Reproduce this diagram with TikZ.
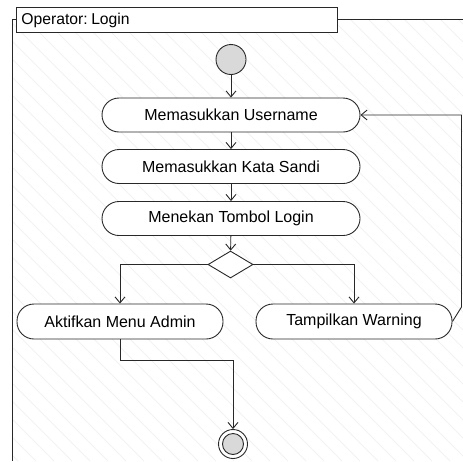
\documentclass[tikz,border=0pt]{standalone}
\usepackage{fontspec}
\setmainfont{Liberation Sans}
\usetikzlibrary{arrows.meta,shapes.geometric}
\definecolor{lgrey}{RGB}{217,217,217}
\definecolor{hatchc}{RGB}{242,242,242}
\definecolor{linec}{RGB}{40,40,40}
\begin{document}
\begin{tikzpicture}[x=1pt,y=-1pt,line width=0.9pt,color=linec,
  hatch/.style={draw=hatchc,line width=0.8pt},
  action/.style={draw=linec,fill=white,rounded corners=17pt,minimum height=34pt,inner sep=0pt,text=black,font=\fontsize{16}{19}\selectfont},
  arr/.style={draw=linec,-{Straight Barb[length=6pt,width=10pt]}},
  txt/.style={font=\fontsize{15.7}{19}\selectfont,inner sep=0pt,text=black}]
\useasboundingbox (0,0) rectangle (463,461);
\begin{scope}
  \clip (12,19) rectangle (463,461);
  \foreach \i in {-460,-442,...,470} \draw[hatch] (\i,19) -- ++(442,442);
\end{scope}
% frame
\draw[linec] (16,19) -- (12,19) -- (12,461);
\draw[linec] (337,19) -- (463,19);
\node[draw=linec,fill=white,minimum width=321pt,minimum height=25pt,inner sep=0pt,anchor=north west] (title) at (16,7) {};
\node[txt,anchor=west] (titletext) at ([xshift=5pt]title.west) {Operator:\hspace{3.5pt}Login};
% nodes
\node[circle,draw=linec,fill=lgrey,minimum size=30pt,inner sep=0pt] (start) at (231,59.5) {};
\node[action,minimum width=258pt] (user) at (231,115) {Memasukkan Username};
\node[action,minimum width=258pt] (kata) at (231,166.5) {Memasukkan Kata Sandi};
\node[action,minimum width=258pt] (login) at (231,218.5) {Menekan Tombol Login};
\node[diamond,draw=linec,fill=white,minimum width=45pt,minimum height=27pt,inner sep=0pt] (dia) at (230.5,264.5) {};
\node[action,minimum width=206pt,minimum height=35pt] (admin) at (120,321.5) {Aktifkan Menu Admin};
\node[action,minimum width=196pt,minimum height=35pt] (warn) at (354,321.5) {Tampilkan Warning};
\node[circle,draw=linec,fill=white,minimum size=29pt,inner sep=0pt] (final) at (233,444) {};
\node[circle,draw=linec,fill=lgrey,minimum size=21pt,inner sep=0pt] (finalin) at (final.center) {};
% connectors
\coordinate (lp1) at (461.5,307);
\coordinate (lp2) at (461.5,115);
\coordinate (ad1) at (120,360);
\draw[arr] (start) -- (user);
\draw[arr] (user) -- (kata);
\draw[arr] (kata) -- (login);
\draw[arr] (login) -- (dia);
\draw[arr] (dia.west) -| (admin.north);
\draw[arr] (dia.east) -| (warn.north);
\draw[arr] (warn.east) -- (lp1) -- (lp2) -- (user.east);
\draw[arr] (admin.south) -- (ad1) -| (final.north);
\end{tikzpicture}
\end{document}
